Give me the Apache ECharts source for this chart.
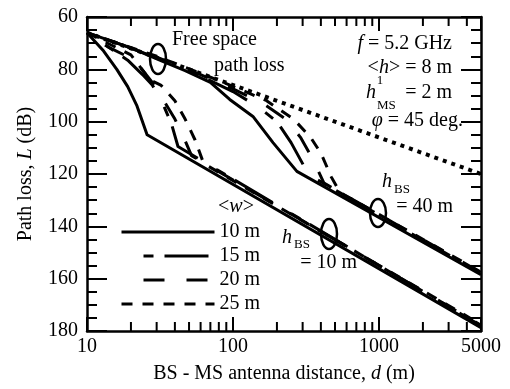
<!DOCTYPE html>
<html><head><meta charset="utf-8">
<script src="https://cdn.jsdelivr.net/npm/echarts@6/dist/echarts.min.js"></script>
<style>html,body{margin:0;padding:0;background:#fff}#c{width:510px;height:389px}</style>
</head><body><div id="c"></div>
<script>
const FONT = '"Liberation Serif","Times New Roman",serif';
const legendNames = ['10 m', '15 m', '20 m', '25 m'];

// Free-space path loss
const fsDist = [10, 5000];
const fsLoss = [66, 120];

// h_BS = 10 m
const h10w10Dist = [10, 13, 16, 19, 22, 25.8, 5000];
const h10w10Loss = [66, 73, 80, 86.6, 94, 105, 178.7];
const h10w15Dist = [10, 14, 19, 24, 28, 33, 38, 42, 5000];
const h10w15Loss = [66, 71.5, 76.5, 82, 86, 93, 101, 109.5, 178];
const h10w20Dist = [10, 14, 18, 23, 28, 34, 40, 46, 52, 5000];
const h10w20Loss = [66, 71.5, 74.5, 79, 85, 92.5, 99, 106, 113, 177.8];
const h10w25Dist = [10, 15, 20, 27, 32, 40, 47, 55, 63, 5000];
const h10w25Loss = [66, 71, 74.5, 84, 86, 92, 99, 107, 116, 177.5];

// h_BS = 40 m
const h40w10Dist = [10, 20, 33, 47, 70, 95, 137, 188, 274, 5000];
const h40w10Loss = [66, 71.8, 77, 80.5, 85, 91.5, 98, 108, 119, 158.5];
const h40w15Dist = [10, 30, 60, 100, 150, 200, 250, 310, 360, 5000];
const h40w15Loss = [66, 75.5, 82.5, 88.5, 94.5, 100, 108, 117.5, 121.5, 158];
const h40w20Dist = [10, 30, 60, 100, 160, 230, 290, 350, 420, 5000];
const h40w20Loss = [66, 75.3, 82, 87.5, 93, 99, 106, 114, 123.5, 157.7];
const h40w25Dist = [10, 30, 60, 100, 170, 260, 340, 400, 470, 540, 5000];
const h40w25Loss = [66, 75, 81.5, 86.5, 92, 99, 106, 112, 121, 127, 157.5];

// x-axis minor tick positions (log axis)
const xMinorTicks = [20, 30, 40, 50, 60, 70, 80, 90, 200, 300, 400, 500, 600, 700, 800, 900, 2000, 3000, 4000];

const dashFor = {
  '10 m': { type: 'solid' },
  '15 m': { type: [44, 22, 10, 11], dashOffset: 44 },
  '20 m': { type: [21, 22], dashOffset: 21 },
  '25 m': { type: [11, 10], dashOffset: 0 }
};

function pairs(d, l) { return d.map((v, i) => [v, l[i]]); }
function curve(name, d, l) {
  return {
    name: name, type: 'line', symbol: 'none', smooth: false, silent: true,
    data: pairs(d, l),
    lineStyle: Object.assign({ color: '#000', width: 3, cap: 'butt', join: 'round' }, dashFor[name]),
    itemStyle: { color: '#000' }
  };
}

const chart = echarts.init(document.getElementById('c'), null, { renderer: 'canvas' });

const axisCommonX = {
  type: 'log', logBase: 10, min: 10, max: 5000,
  axisLine: { show: true, lineStyle: { color: '#000', width: 2.5 } },
  axisTick: { show: true, inside: true, length: 14, lineStyle: { color: '#000', width: 2 } },
  splitLine: { show: false }, minorTick: { show: false }
};
const axisCommonY = {
  type: 'value', min: 60, max: 180, interval: 20, inverse: true,
  axisLine: { show: true, lineStyle: { color: '#000', width: 2.5 } },
  axisTick: { show: true, inside: true, length: 20, lineStyle: { color: '#000', width: 2 } },
  minorTick: { show: true, splitNumber: 4, length: 10, lineStyle: { color: '#000', width: 2 } },
  splitLine: { show: false }
};

const richName = {
  n: { fontFamily: FONT, fontSize: 20, color: '#000' },
  i: { fontFamily: FONT, fontSize: 20, color: '#000', fontStyle: 'italic' }
};

const option = {
  backgroundColor: '#fff',
  animation: false,
  grid: { left: 87, right: 29, top: 17, bottom: 56, containLabel: false },
  legend: {
    data: legendNames,
    orient: 'vertical', left: 120, top: 222, padding: 0,
    itemWidth: 93, itemHeight: 14, itemGap: 4,
    lineStyle: { width: 3 },
    itemStyle: { opacity: 0, borderWidth: 0 },
    textStyle: { fontFamily: FONT, fontSize: 20, color: '#000', lineHeight: 20 },
    selectedMode: false
  },
  xAxis: [
    Object.assign({}, axisCommonX, {
      position: 'bottom',
      axisLabel: { color: '#000', fontFamily: FONT, fontSize: 20, margin: 6,
        formatter: v => String(Math.round(v)) },
      name: '{n|BS - MS antenna distance, }{i|d}{n| (m)}',
      nameLocation: 'middle', nameGap: 33,
      nameTextStyle: { rich: richName }
    }),
    Object.assign({}, axisCommonX, { position: 'top', axisLabel: { show: false } })
  ],
  yAxis: [
    Object.assign({}, axisCommonY, {
      position: 'left',
      axisLabel: { color: '#000', fontFamily: FONT, fontSize: 20, margin: 9 },
      name: '{n|Path loss, }{i|L}{n| (dB)}',
      nameLocation: 'middle', nameGap: 51,
      nameTextStyle: { rich: richName }
    }),
    Object.assign({}, axisCommonY, { position: 'right', axisLabel: { show: false } })
  ],
  series: [
    {
      name: 'Free space', type: 'line', symbol: 'none', silent: true,
      data: pairs(fsDist, fsLoss),
      lineStyle: { color: '#000', width: 4, type: [4, 5], cap: 'butt' }
    },
    curve('10 m', h10w10Dist, h10w10Loss),
    curve('15 m', h10w15Dist, h10w15Loss),
    curve('20 m', h10w20Dist, h10w20Loss),
    curve('25 m', h10w25Dist, h10w25Loss),
    curve('10 m', h40w10Dist, h40w10Loss),
    curve('15 m', h40w15Dist, h40w15Loss),
    curve('20 m', h40w20Dist, h40w20Loss),
    curve('25 m', h40w25Dist, h40w25Loss),
    {
      name: 'minorTicks', type: 'custom', silent: true, clip: false, z: 5,
      xAxisIndex: 0, yAxisIndex: 0,
      data: xMinorTicks.map(v => [v, 60]),
      encode: { x: 0, y: 1 },
      renderItem: function (params, api) {
        const b = api.coord([api.value(0), 180]);
        const t = api.coord([api.value(0), 60]);
        return {
          type: 'group', children: [
            { type: 'line', shape: { x1: b[0], y1: b[1], x2: b[0], y2: b[1] - 9 }, style: { stroke: '#000', lineWidth: 2 } },
            { type: 'line', shape: { x1: t[0], y1: t[1], x2: t[0], y2: t[1] + 9 }, style: { stroke: '#000', lineWidth: 2 } }
          ]
        };
      }
    }
  ],
  graphic: [
    { type: 'text', x: 172, y: 40, style: { text: 'Free space', fontFamily: FONT, fontSize: 20, fill: '#000', align: 'left', verticalAlign: 'middle' } },
    { type: 'text', x: 214, y: 66, style: { text: 'path loss', fontFamily: FONT, fontSize: 20, fill: '#000', align: 'left', verticalAlign: 'middle' } },
    { type: 'ellipse', shape: { cx: 158, cy: 59, rx: 8, ry: 15 }, style: { fill: 'none', stroke: '#000', lineWidth: 2.5 } },

    { type: 'text', x: 452, y: 44, style: { text: '{i|f}{n| = 5.2 GHz}', rich: richName, align: 'right', verticalAlign: 'middle' } },
    { type: 'text', x: 452, y: 68, style: { text: '{n|<}{i|h}{n|> = 8 m}', rich: richName, align: 'right', verticalAlign: 'middle' } },
    { type: 'text', x: 380, y: 81, style: { text: '1', fontFamily: FONT, fontSize: 13, fill: '#000', align: 'center', verticalAlign: 'middle' } },
    { type: 'text', x: 371, y: 93, style: { text: '{i|h}', rich: richName, align: 'center', verticalAlign: 'middle' } },
    { type: 'text', x: 377, y: 106, style: { text: 'MS', fontFamily: FONT, fontSize: 13, fill: '#000', align: 'left', verticalAlign: 'middle' } },
    { type: 'text', x: 452, y: 93, style: { text: '= 2 m', fontFamily: FONT, fontSize: 20, fill: '#000', align: 'right', verticalAlign: 'middle' } },
    { type: 'text', x: 463, y: 121, style: { text: '{i|φ}{n| = 45 deg.}', rich: richName, align: 'right', verticalAlign: 'middle' } },

    { type: 'text', x: 387, y: 182, style: { text: '{i|h}', rich: richName, align: 'center', verticalAlign: 'middle' } },
    { type: 'text', x: 394, y: 190, style: { text: 'BS', fontFamily: FONT, fontSize: 13, fill: '#000', align: 'left', verticalAlign: 'middle' } },
    { type: 'text', x: 453, y: 207, style: { text: '= 40 m', fontFamily: FONT, fontSize: 20, fill: '#000', align: 'right', verticalAlign: 'middle' } },
    { type: 'ellipse', shape: { cx: 378, cy: 213, rx: 8, ry: 14 }, style: { fill: 'none', stroke: '#000', lineWidth: 2.5 } },

    { type: 'text', x: 287, y: 238, style: { text: '{i|h}', rich: richName, align: 'center', verticalAlign: 'middle' } },
    { type: 'text', x: 294, y: 245, style: { text: 'BS', fontFamily: FONT, fontSize: 13, fill: '#000', align: 'left', verticalAlign: 'middle' } },
    { type: 'text', x: 357, y: 263, style: { text: '= 10 m', fontFamily: FONT, fontSize: 20, fill: '#000', align: 'right', verticalAlign: 'middle' } },
    { type: 'ellipse', shape: { cx: 329, cy: 234, rx: 8, ry: 15 }, style: { fill: 'none', stroke: '#000', lineWidth: 2.5 } },

    { type: 'text', x: 236, y: 207, style: { text: '{n|<}{i|w}{n|>}', rich: richName, align: 'center', verticalAlign: 'middle' } }
  ]
};
chart.setOption(option);
</script>
</body></html>
